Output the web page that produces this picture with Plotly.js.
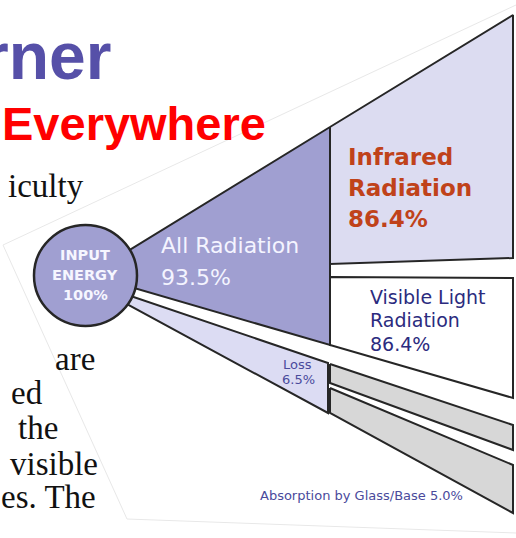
<!DOCTYPE html>
<html>
<head>
<meta charset="utf-8">
<script src="https://cdn.plot.ly/plotly-3.0.1.min.js"></script>
<style>html,body{margin:0;padding:0;background:#fff;}#chart{width:516px;height:538px;}</style>
</head>
<body>
<div id="chart"></div>
<script>
// ---------- data ----------
const stageNames = ['INPUT ENERGY', 'All Radiation', 'Infrared Radiation', 'Visible Light Radiation', 'Loss', 'Absorption by Glass/Base'];
const stagePercents = [100, 93.5, 86.4, 86.4, 6.5, 5.0];
const slideTitleParts = ['rner', 'Everywhere'];
const slideBodyFragments = ['iculty', 'are', 'ed', 'the', 'visible', 'es. The'];

// ---------- geometry (diagram layout, pixel-like data space) ----------
const bandAllRadX = [110, 330, 330, 110];
const bandAllRadY = [262, 127, 345, 281];
const boxInfraredX = [330, 513, 513, 330];
const boxInfraredY = [127, 15, 258, 264];
const boxVisibleX = [330, 513, 513, 330];
const boxVisibleY = [277, 278, 398, 345];
const bandLossX = [110, 328, 328, 110];
const bandLossY = [289, 363, 413, 295];
const bandGrey1X = [330, 513, 513, 330];
const bandGrey1Y = [364, 425, 450, 383];
const bandGrey2X = [330, 513, 513, 330];
const bandGrey2Y = [388, 465, 513, 413];
const frameX = [516, 3, 127, 516];
const frameY = [5, 245, 519, 533];

const pct = v => (Number.isInteger(v) && v >= 100 ? v.toFixed(0) : v.toFixed(1)) + '%';

const outline = '#262626';
function poly(x, y, fill) {
  return {type: 'scatter', mode: 'lines', x: x.concat([x[0]]), y: y.concat([y[0]]),
    fill: 'toself', fillcolor: fill, line: {color: outline, width: 2}, hoverinfo: 'skip', showlegend: false};
}

const traces = [
  {type: 'scatter', mode: 'lines', x: frameX, y: frameY, line: {color: '#e8e8e8', width: 1}, hoverinfo: 'skip', showlegend: false},
  poly(bandGrey2X, bandGrey2Y, '#d7d7d7'),
  poly(bandGrey1X, bandGrey1Y, '#d7d7d7'),
  poly(bandLossX, bandLossY, '#dcdcf3'),
  poly(boxVisibleX, boxVisibleY, '#ffffff'),
  poly(boxInfraredX, boxInfraredY, '#dcdcf1'),
  poly(bandAllRadX, bandAllRadY, '#a09fd1')
];

const ann = [];
function txt(x, y, text, size, color, family, xanchor, bold) {
  ann.push({x: x, y: y, xref: 'x', yref: 'y', text: bold ? '<b>' + text + '</b>' : text, showarrow: false,
    xanchor: xanchor || 'left', yanchor: 'middle', font: {size: size, color: color, family: family}});
}
const sans = 'DejaVu Sans, Verdana, sans-serif';
// slide background text
txt(113, 56, slideTitleParts[0], 66, '#5650a8', 'Liberation Sans, Arial', 'right', true);
txt(0, 123, slideTitleParts[1], 47, '#ff0000', 'Liberation Sans, Arial', 'left', true);
const bodyRight = [86, 97, 45, 60, 100, 98];
const bodyY = [186, 359, 393, 428, 464, 497];
slideBodyFragments.forEach((t, i) => txt(bodyRight[i], bodyY[i], t, 33, '#111111', 'Liberation Serif, Times New Roman, serif', 'right'));

// input circle labels
const inWords = stageNames[0].split(' ');
txt(85, 255, inWords[0], 14.5, '#f6f6ff', sans, 'center', true);
txt(85, 275, inWords[1], 14.5, '#f6f6ff', sans, 'center', true);
txt(85, 295, pct(stagePercents[0]), 14.5, '#f6f6ff', sans, 'center', true);
// all radiation
txt(159, 245, stageNames[1], 22, '#f4f4ff', sans, 'left');
txt(159, 277, pct(stagePercents[1]), 22, '#f4f4ff', sans, 'left');
// infrared
const irWords = stageNames[2].split(' ');
txt(346, 157, irWords[0], 23, '#c0421a', sans, 'left', true);
txt(346, 188, irWords[1], 23, '#c0421a', sans, 'left', true);
txt(346, 219, pct(stagePercents[2]), 23, '#c0421a', sans, 'left', true);
// visible
txt(368, 297, 'Visible Light', 19, '#2b2b7e', sans, 'left');
txt(368, 320, 'Radiation', 19, '#2b2b7e', sans, 'left');
txt(368, 344, pct(stagePercents[3]), 19, '#2b2b7e', sans, 'left');
// loss
txt(297, 364, stageNames[4], 13, '#4a4a9c', sans, 'center');
txt(298, 379, pct(stagePercents[4]), 13, '#4a4a9c', sans, 'center');
// absorption
txt(361, 495, stageNames[5] + ' ' + pct(stagePercents[5]), 13, '#4a4a9c', sans, 'center');

const layout = {
  width: 516, height: 538, margin: {l: 0, r: 0, t: 0, b: 0},
  paper_bgcolor: '#ffffff', plot_bgcolor: '#ffffff',
  xaxis: {range: [0, 516], visible: false, fixedrange: true},
  yaxis: {range: [538, 0], visible: false, fixedrange: true},
  shapes: [{type: 'circle', xref: 'x', yref: 'y', x0: 34, x1: 137, y0: 225, y1: 326,
    fillcolor: '#a09fd1', line: {color: outline, width: 2.5}, layer: 'above'}],
  annotations: ann,
  showlegend: false
};
Plotly.newPlot('chart', traces, layout, {staticPlot: true, displayModeBar: false});
</script>
</body>
</html>
